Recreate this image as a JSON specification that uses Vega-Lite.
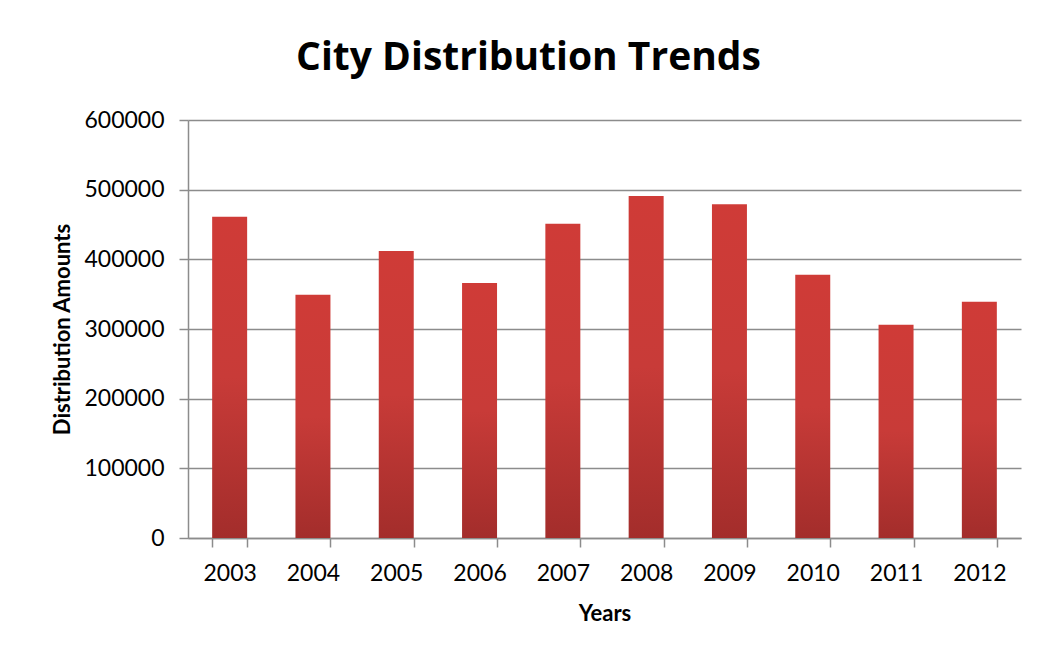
{
  "$schema": "https://vega.github.io/schema/vega-lite/v6.json",
  "width": 833,
  "height": 418,
  "autosize": {"type": "none"},
  "padding": {"left": 188, "top": 120, "right": 17, "bottom": 120},
  "background": "white",
  "title": {
    "text": "City Distribution Trends",
    "font": "Open Sans",
    "fontSize": 39,
    "fontWeight": "bold",
    "color": "#000000",
    "anchor": "middle",
    "baseline": "alphabetic",
    "offset": 0,
    "dx": -76
  },
  "data": {
    "values": [
      {"year": "2003", "amount": 461000},
      {"year": "2004", "amount": 349000},
      {"year": "2005", "amount": 412000},
      {"year": "2006", "amount": 366000},
      {"year": "2007", "amount": 451000},
      {"year": "2008", "amount": 491000},
      {"year": "2009", "amount": 479000},
      {"year": "2010", "amount": 378000},
      {"year": "2011", "amount": 306000},
      {"year": "2012", "amount": 339000}
    ]
  },
  "mark": {
    "type": "bar",
    "color": {
      "gradient": "linear",
      "x1": 0, "y1": 0, "x2": 0, "y2": 1,
      "stops": [
        {"offset": 0, "color": "#CF3B37"},
        {"offset": 0.5, "color": "#C83B38"},
        {"offset": 1, "color": "#A32D2B"}
      ]
    }
  },
  "encoding": {
    "x": {
      "field": "year",
      "type": "ordinal",
      "scale": {"paddingInner": 0.58, "paddingOuter": 0.29},
      "axis": {
        "title": "Years",
        "labelAngle": 0,
        "tickBand": "extent",
        "grid": false,
        "ticks": true,
        "tickSize": 9,
        "tickColor": "#8c8c8c",
        "tickWidth": 1.5,
        "domainColor": "#8c8c8c",
        "domainWidth": 1.5,
        "labelFont": "Lato",
        "labelFontSize": 23,
        "labelColor": "#000000",
        "labelPadding": 15,
        "titleFont": "Lato",
        "titleFontSize": 22,
        "titleFontWeight": "bold",
        "titleColor": "#000000",
        "titlePadding": 18
      }
    },
    "y": {
      "field": "amount",
      "type": "quantitative",
      "scale": {"domain": [0, 600000], "nice": false},
      "axis": {
        "title": "Distribution Amounts",
        "values": [0, 100000, 200000, 300000, 400000, 500000, 600000],
        "format": "d",
        "grid": true,
        "gridColor": "#8c8c8c",
        "gridWidth": 1.5,
        "tickSize": 9,
        "tickColor": "#8c8c8c",
        "tickWidth": 1.5,
        "domainColor": "#8c8c8c",
        "domainWidth": 1.5,
        "labelFont": "Lato",
        "labelFontSize": 23,
        "labelColor": "#000000",
        "labelPadding": 15,
        "titleFont": "Lato",
        "titleFontSize": 22,
        "titleFontWeight": "bold",
        "titleColor": "#000000",
        "titlePadding": 9
      }
    }
  },
  "config": {
    "view": {"stroke": null}
  }
}
